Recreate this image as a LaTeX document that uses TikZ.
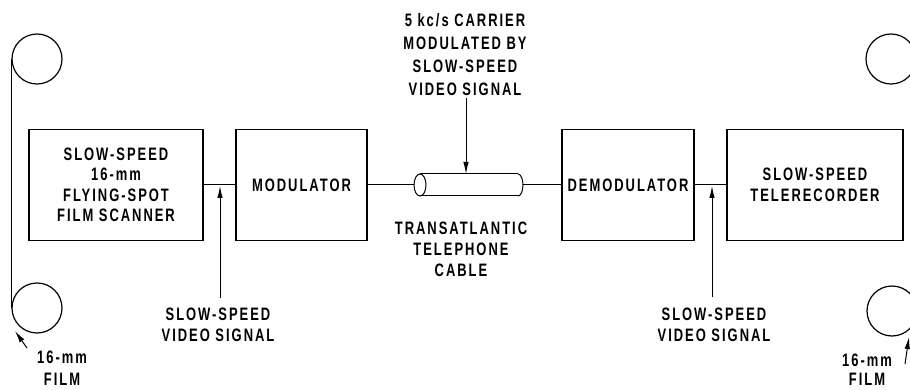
\documentclass[tikz,border=0pt]{standalone}
\usepackage{fontspec}
\setmainfont{Liberation Sans}[FakeStretch=0.72,LetterSpace=11,BoldFont={Liberation Sans Bold}]
\usetikzlibrary{arrows.meta}

\tikzset{
  block/.style={draw,line width=1.4pt,inner sep=0pt,align=center,minimum height=111pt},
  reel/.style={draw,circle,line width=1.2pt,minimum size=50pt,inner sep=0pt},
  wire/.style={line width=1pt},
  sigarrow/.style={wire,-{Latex[length=12pt,width=5.5pt]}},
  lbl/.style={align=center,inner sep=0pt},
}

\begin{document}
\begin{tikzpicture}[x=1pt,y=-1pt,font=\fontsize{18}{20.5}\selectfont\bfseries]
    \useasboundingbox (0,0) rectangle (910,390);
    \clip (0,0) rectangle (910,390);
    % film reels
    \node[reel] (supA) at (37,59) {};
    \node[reel] (supB) at (37,308) {};
    \node[reel] (takA) at (891,59) {};
    \node[reel] (takB) at (892,311) {};
    \draw[wire] (supA.west) -- (supB.west);
    % blocks
    \node[block,minimum width=174pt] (scan) at (116,185) {SLOW-SPEED\\16-mm\\FLYING-SPOT\\FILM SCANNER};
    \node[block,minimum width=131pt] (mod) at (301.5,185) {MODULATOR};
    \node[block,minimum width=132pt] (demod) at (628,185) {DEMODULATOR};
    \node[block,minimum width=176pt] (rec) at (815,185) {SLOW-SPEED\\TELERECORDER};
    % cable
    \coordinate (cabL) at (414,185);
    \coordinate (cabR) at (523,185);
    \coordinate (cabT) at (466,174);
    \draw[wire] (420,174) -- (518,174) (420,196) -- (518,196);
    \draw[wire] (420,185) ellipse [x radius=6pt,y radius=11pt];
    \draw[wire] (518,174) arc [start angle=90,end angle=-90,x radius=5pt,y radius=11pt];
    % connections
    \draw[wire] (scan.east) -- (mod.west);
    \draw[wire] (mod.east) -- (cabL);
    \draw[wire] (cabR) -- (demod.west);
    \draw[wire] (demod.east) -- (rec.west);
    % labels
    \node[lbl,font=\fontsize{18}{23}\selectfont\bfseries] (carr) at (465,55) {5 kc/s CARRIER\\MODULATED BY\\SLOW-SPEED\\VIDEO SIGNAL};
    \node[lbl,font=\fontsize{18}{21}\selectfont\bfseries] (tcab) at (461,249) {TRANSATLANTIC\\TELEPHONE\\CABLE};
    \node[lbl] (vidA) at (218,325) {SLOW-SPEED\\VIDEO SIGNAL};
    \node[lbl] (vidB) at (714,325) {SLOW-SPEED\\VIDEO SIGNAL};
    \node[lbl,font=\fontsize{18}{22}\selectfont\bfseries] (filmA) at (62,368) {16-mm\\FILM};
    \node[lbl,font=\fontsize{18}{19}\selectfont\bfseries] (filmB) at (867,370) {16-mm\\FILM};
    % arrows
    \coordinate (tapA) at (220,186);
    \coordinate (tapB) at (712,186);
    \draw[sigarrow] (220,298) -- (tapA);
    \draw[sigarrow] (712,297) -- (tapB);
    \draw[sigarrow] (466,98) -- (cabT);
    \draw[sigarrow] (27,348) -- (15,331);
    \draw[sigarrow] (905,364) -- (909,337);
\end{tikzpicture}
\end{document}
